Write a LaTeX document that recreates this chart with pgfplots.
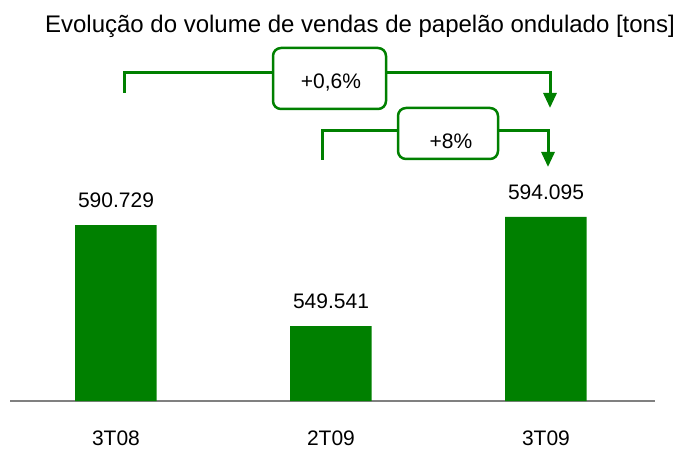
\documentclass[border=0pt]{standalone}
\usepackage{fontspec}
\setmainfont{Liberation Sans}
\usepackage{pgfplots}
\pgfplotsset{compat=1.18}
\usetikzlibrary{arrows.meta}
\definecolor{barGreen}{RGB}{0,128,0}
\definecolor{axisGray}{RGB}{128,128,128}
\begin{document}
\begin{tikzpicture}
\path[use as bounding box] (-10bp,-48bp) rectangle (673bp,401bp);
\begin{axis}[
  at={(0,0)}, anchor=south west,
  scale only axis,
  width=645bp, height=341bp,
  xmin=-0.493, xmax=2.507,
  ymin=519, ymax=658.07,
  ybar, bar width=81.5bp,
  axis x line=bottom, axis y line=none,
  x axis line style={-, draw=axisGray, line width=1.5bp},
  xtick=data, xticklabels={3T08,2T09,3T09},
  major tick length=0pt,
  xticklabel style={font=\fontsize{21bp}{25bp}\selectfont, inner sep=0pt, anchor=base, yshift=-44.5bp},
  ytick=\empty,
  point meta=explicit symbolic,
  nodes near coords,
  nodes near coords style={font=\fontsize{21bp}{25bp}\selectfont, inner sep=0pt, anchor=south, yshift=17bp, text=black},
  clip=false,
]
\addplot[fill=barGreen, draw=none] coordinates {
  (0,590.729) [590.729]
  (1,549.541) [549.541]
  (2,594.095) [594.095]
};
\end{axis}
% title
\node[anchor=base, font=\fontsize{24bp}{28bp}\selectfont, inner sep=0pt] at (350bp,368bp) {Evolução do volume de vendas de papelão ondulado [tons]};
% bracket 1
\draw[barGreen, line width=3bp, -{Triangle[width=13bp,length=15bp]}] (114bp,308bp) -- (114bp,328bp) -- (540bp,328bp) -- (540bp,293bp);
\draw[barGreen, line width=2.5bp, fill=white, rounded corners=8bp] (263bp,292bp) rectangle (376bp,353bp);
\node[anchor=base, font=\fontsize{21bp}{25bp}\selectfont, inner sep=0pt] at (321bp,312.7bp) {+0,6\%};
% bracket 2
\draw[barGreen, line width=3bp, -{Triangle[width=13bp,length=15bp]}] (312bp,241bp) -- (312bp,270bp) -- (538bp,270bp) -- (538bp,234bp);
\draw[barGreen, line width=2.5bp, fill=white, rounded corners=8bp] (388bp,242bp) rectangle (488bp,293bp);
\node[anchor=base, font=\fontsize{21bp}{25bp}\selectfont, inner sep=0pt] at (441bp,252.7bp) {+8\%};
\end{tikzpicture}
\end{document}
